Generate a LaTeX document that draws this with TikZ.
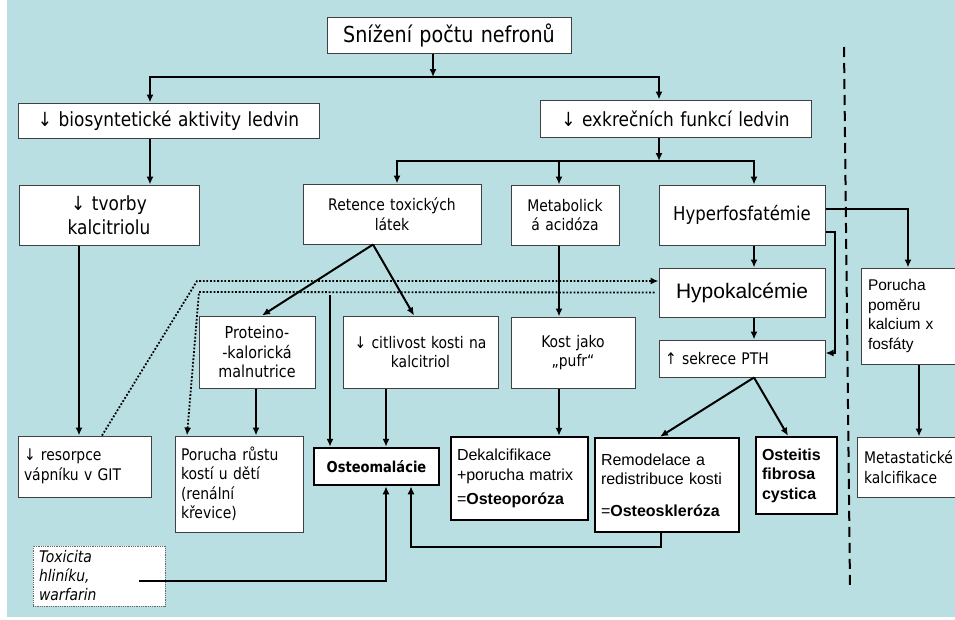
\documentclass[tikz,border=0pt]{standalone}
\usepackage{fontspec}
\usepackage{tikz}
\usetikzlibrary{arrows.meta}
\setmainfont{DejaVu Sans}[FakeStretch=0.87]
\newfontfamily\arial{Liberation Sans}
\newcommand{\fsz}[2]{\fontsize{#1}{#2}\selectfont}
\definecolor{bgteal}{RGB}{186,223,226}

\tikzset{
  box/.style={draw=black!75, line width=1pt, fill=white, inner xsep=6pt, inner ysep=2pt, align=center},
  boxl/.style={box, align=left},
  heavybox/.style={box, draw=black, line width=2.5pt},
  arr/.style={-{Latex[length=8pt,width=7pt]}, line width=2pt},
  dotarr/.style={arr, line width=1.8pt, dash pattern=on 1.8pt off 1.8pt},
  dashline/.style={line width=2pt, dash pattern=on 10pt off 6pt}
}

\begin{document}
\begin{tikzpicture}[x=1pt, y=-1pt]
                \useasboundingbox (0,0) rectangle (955,619);
                \fill[white] (0,0) rectangle (955,619);
                \fill[bgteal] (7,0) rectangle (955,617);

                %% top
                \node[box, text width=232pt, minimum height=36pt, font={\fsz{22}{26}}] (nefrony) at (449,35) {Snížení počtu nefronů};
                \node[box, text width=289pt, minimum height=35pt, font={\fsz{19.5}{23}}] (biosynt) at (168.5,120.5) {↓ biosyntetické aktivity ledvin};
                \node[box, text width=259pt, minimum height=37pt, font={\fsz{19.5}{23}}] (exkrece) at (675.5,118.5) {↓ exkrečních funkcí ledvin};

                \coordinate (split1) at (433,77);
                \draw[arr] (nefrony.south -| split1) -- (split1);
                \draw[arr] (split1) -| ([xshift=-18.5pt]biosynt.north);
                \draw[arr] (split1) -| ([xshift=-16.5pt]exkrece.north);

                %% second row
                \node[box, text width=168pt, minimum height=60pt, font={\fsz{19.5}{24}}] (kalcitriol) at (109,215) {↓ tvorby\\kalcitriolu};
                \node[box, text width=166pt, minimum height=60pt, font={\fsz{16}{19.5}}] (retence) at (392,214) {Retence toxických\\látek};
                \node[box, text width=96pt, minimum height=60pt, font={\fsz{16}{19.5}}] (acidoza) at (565,215) {Metabolick\\á acidóza};
                \node[box, text width=154pt, minimum height=60pt, font={\fsz{19}{23}}] (hyperP) at (742,215) {Hyperfosfatémie};

                \draw[arr] ([xshift=-18.5pt]biosynt.south) -- ([xshift=41pt]kalcitriol.north);
                \coordinate (split2) at (659,161);
                \draw[arr] (exkrece.south -| split2) -- (split2);
                \draw[arr] (split2) -| ([xshift=5pt]retence.north);
                \draw[arr] (split2) -| ([xshift=-6pt]acidoza.north);
                \draw[arr] (split2) -| ([xshift=12pt]hyperP.north);

                %% calcium
                \node[box, text width=154pt, minimum height=49pt, font={\arial\fsz{21}{25}}] (hypoCa) at (742,292.5) {Hypokalcémie};
                \node[boxl, text width=154pt, minimum height=37pt, font={\fsz{16}{19.5}}] (pth) at (742,358.5) {↑ sekrece PTH};
                \node[boxl, text width=106pt, inner xsep=7pt, minimum height=96pt, font={\arial\fsz{15.5}{19.5}}] (pomer) at (921,316) {Porucha\\poměru\\kalcium x\\fosfáty};

                \draw[arr] ([xshift=12pt]hyperP.south) -- ([xshift=12pt]hypoCa.north);
                \draw[arr] ([xshift=12pt]hypoCa.south) -- ([xshift=12pt]pth.north);
                \draw[arr] ([yshift=6pt]hyperP.east) -| ([xshift=-13pt]pomer.north);
                \draw[arr] ([yshift=-17pt]hyperP.east) -- ++(9,0) |- ([yshift=5.5pt]pth.east);

                %% third row
                \node[box, text width=104pt, minimum height=72pt, font={\fsz{16.5}{19.5}}] (malnutr) at (257,352) {Proteino-\\-kalorická\\malnutrice};
                \node[box, text width=143pt, minimum height=72pt, font={\fsz{16}{19.5}}] (citlivost) at (420.5,352) {↓ citlivost kosti na\\kalcitriol};
                \node[box, text width=112pt, minimum height=71pt, font={\fsz{16}{19.5}}] (pufr) at (573,352.5) {Kost jako\\„pufr“};

                \draw[arr] ([xshift=-19pt]retence.south) -- ([xshift=5pt]malnutr.north);
                \draw[arr] ([xshift=-19pt]retence.south) -- ([xshift=-6.5pt]citlivost.north);
                \draw[arr] ([xshift=-6pt]acidoza.south) -- ([xshift=-14pt]pufr.north);

                %% bottom row
                \node[boxl, text width=121pt, minimum height=61pt, font={\fsz{16}{19.5}}] (resorpce) at (84.5,466.5) {↓ resorpce\\vápníku v GIT};
                \node[boxl, text width=116pt, minimum height=96pt, font={\fsz{16}{19.5}}] (krevice) at (239,484) {Porucha růstu\\kostí u dětí\\(renální\\křevice)};
                \node[heavybox, text width=113pt, minimum height=37pt, font={\bfseries\fsz{15}{19}}] (osteomal) at (376.5,466.5) {Osteomalácie};
                \node[heavybox, align=left, text width=125pt, minimum height=83pt, font={\arial\fsz{16}{19.5}}] (osteopor) at (519.5,478.5) {Dekalcifikace\\+porucha matrix\\[5pt]=\textbf{Osteoporóza}};
                \node[heavybox, align=left, text width=132pt, minimum height=94pt, font={\arial\fsz{16}{19.5}}] (osteoskl) at (667,485) {Remodelace a\\redistribuce kosti\\[12pt]=\textbf{Osteoskleróza}};
                \node[heavybox, align=left, text width=69pt, minimum height=77pt, font={\arial\bfseries\fsz{16}{19.5}}] (osteitis) at (796.5,475.5) {Osteitis\\fibrosa\\cystica};
                \node[boxl, text width=106pt, inner xsep=7pt, minimum height=60pt, font={\fsz{16}{19.5}}] (metast) at (917,467) {Metastatické\\kalcifikace};
                \node[boxl, draw=black!60, line width=0.8pt, densely dotted, text width=120pt, minimum height=60pt, font={\itshape\fsz{16}{19}}] (toxicita) at (99,576) {Toxicita\\hliníku,\\warfarin};

                \draw[arr] ([xshift=-30pt]kalcitriol.south) -- ([xshift=-5.5pt]resorpce.north);
                \draw[arr] ([xshift=-1pt]malnutr.south) -- ([xshift=17pt]krevice.north);
                \draw[arr] ([xshift=-34.5pt]citlivost.south) -- ([xshift=9.5pt]osteomal.north);
                \coordinate (hypoOM) at (330,295);
                \draw[arr] (hypoOM) -- (osteomal.north -| hypoOM);
                \draw[arr] ([xshift=-14pt]pufr.south) -- ([xshift=39.5pt]osteopor.north);
                \draw[arr] ([xshift=12pt]pth.south) -- ([xshift=-7pt]osteoskl.north);
                \draw[arr] ([xshift=12pt]pth.south) -- ([xshift=-8.5pt]osteitis.north);
                \draw[arr] ([xshift=-2pt]pomer.south) -- ([xshift=2pt]metast.north);

                %% dotted
                \coordinate (dotA) at (197,281);
                \coordinate (dotB) at (199,292);
                \draw[dotarr] ([xshift=17.5pt]resorpce.north) -- (dotA) -- (hypoCa.west |- dotA);
                \draw[dotarr] ([xshift=-4pt]hypoCa.west) -- (dotB) -- ([xshift=-52pt]krevice.north);

                %% back to osteomalacie
                \coordinate (toxStart) at (139,581);
                \draw[arr] (toxStart) -| ([xshift=9.5pt]osteomal.south);
                \draw[arr] ([xshift=-6pt]osteoskl.south) -- ++(0,14) -| ([xshift=34.5pt]osteomal.south);

                %% divider
                \draw[dashline] (844,47) -- (850,587);

\end{tikzpicture}
\end{document}
